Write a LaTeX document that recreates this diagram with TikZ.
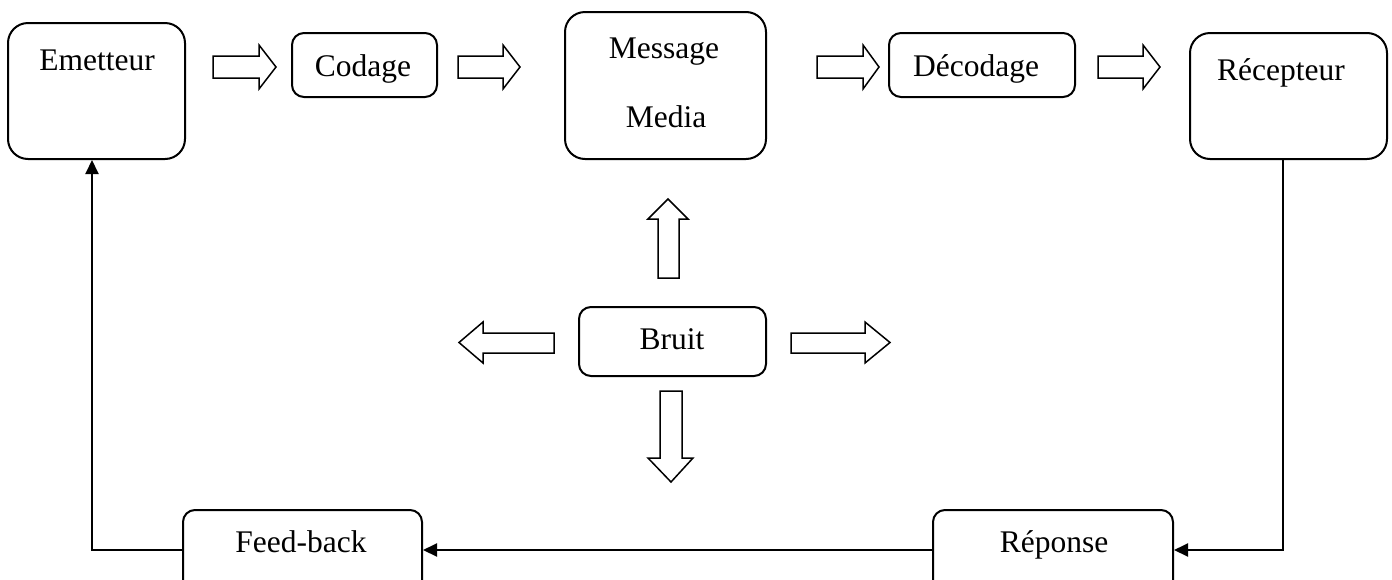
\documentclass[tikz,border=0pt]{standalone}
\usepackage{fontspec}
\setmainfont{Liberation Serif}
\usetikzlibrary{arrows.meta}
\begin{document}
\begin{tikzpicture}[x=1pt,y=-1pt,
  font=\fontsize{31.5}{38}\selectfont,
  bigbox/.style={draw,line width=2pt,rounded corners=20pt,inner sep=0pt},
  smallbox/.style={draw,line width=2pt,rounded corners=12pt,inner sep=0pt},
  txt/.style={anchor=base,inner sep=0pt},
  blockarrow/.style={draw,line width=1.5pt,fill=white,line join=miter},
  conn/.style={line width=2pt,-{Triangle[length=14pt,width=13pt]}}]
\useasboundingbox (0,0) rectangle (1392,579);
% boxes
\node[bigbox,minimum width=177pt,minimum height=136pt] (emet) at (96.5,91) {};
\node[smallbox,minimum width=145pt,minimum height=64pt] (cod) at (364.5,65) {};
\node[bigbox,minimum width=201pt,minimum height=147pt] (msg) at (665.5,85.5) {};
\node[smallbox,minimum width=186pt,minimum height=64pt] (dec) at (982,65) {};
\node[bigbox,minimum width=197pt,minimum height=126pt] (rec) at (1288.5,96) {};
\node[smallbox,minimum width=187pt,minimum height=69pt] (bruit) at (672.5,341.5) {};
\node[smallbox,minimum width=239pt,minimum height=90pt] (feed) at (302.5,555) {};
\node[smallbox,minimum width=240pt,minimum height=90pt] (rep) at (1053,555) {};
% texts
\node[txt] (emet-t) at (97,70) {Emetteur};
\node[txt] (cod-t) at (363,76) {Codage};
\node[txt] (msg-t) at (664,58) {Message};
\node[txt] (media-t) at (666,127) {Media};
\node[txt] (dec-t) at (976,76) {Décodage};
\node[txt] (rec-t) at (1281,80) {Récepteur};
\node[txt] (bruit-t) at (672,349) {Bruit};
\node[txt] (feed-t) at (301,552) {Feed-back};
\node[txt] (rep-t) at (1054,552) {Réponse};
% block arrows (top row)
\foreach \t/\b/\p in {213/259/276, 458/503/520, 817/863/879, 1098/1143/1160}{
  \draw[blockarrow] (\t,56) -- (\b,56) -- (\b,45) -- (\p,67) -- (\b,89) -- (\b,78) -- (\t,78) -- cycle;
}
% block arrows around Bruit
\draw[blockarrow] (658,278) -- (658,219) -- (648,219) -- (668,199) -- (688,219) -- (679,219) -- (679,278) -- cycle;
\draw[blockarrow] (660,391) -- (660,458) -- (648,458) -- (671,482) -- (693,458) -- (682,458) -- (682,391) -- cycle;
\draw[blockarrow] (554,333) -- (483,333) -- (483,322) -- (459,342.5) -- (483,363) -- (483,353) -- (554,353) -- cycle;
\draw[blockarrow] (791,333) -- (865,333) -- (865,322) -- (890,342.5) -- (865,363) -- (865,353) -- (791,353) -- cycle;
% connectors
\coordinate (c1) at (1283,550);
\coordinate (c2) at (92,550);
\draw[conn] (rec.south -| c1) -- (c1) -- (rep.east |- c1);
\draw[conn] (rep.west |- c1) -- (feed.east |- c1);
\draw[conn] (feed.west |- c2) -- (c2) -- (emet.south -| c2);
\end{tikzpicture}
\end{document}
